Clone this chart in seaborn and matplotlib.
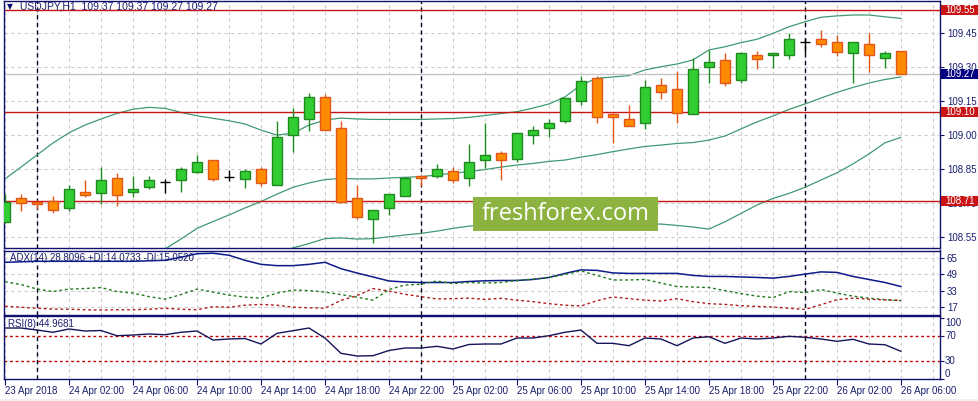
import matplotlib
matplotlib.use("Agg")
import matplotlib.pyplot as plt
from matplotlib.patches import Rectangle
from matplotlib.transforms import blended_transform_factory
import numpy as np
import pandas as pd
import seaborn as sns

# ========== Данные (USDJPY, H1, 23 Apr 22:00 - 26 Apr 06:00) ==========
opens = [108.617, 108.720, 108.706, 108.707, 108.676, 108.747, 108.745, 108.809, 108.747, 108.769,
         108.791, 108.800, 108.838, 108.888, 108.816, 108.807, 108.848, 108.778, 108.998, 109.070,
         109.167, 109.029, 108.720, 108.628, 108.676, 108.729, 108.817, 108.817, 108.839, 108.809,
         108.888, 108.919, 108.892, 108.998, 109.029, 109.060, 109.148, 109.249, 109.092, 109.068,
         109.051, 109.218, 109.201, 109.091, 109.298, 109.328, 109.240, 109.350, 109.350, 109.350,
         109.408, 109.421, 109.408, 109.359, 109.399, 109.337, 109.370]
highs = [108.739, 108.738, 108.713, 108.729, 108.779, 108.801, 108.857, 108.832, 108.817, 108.819,
         108.807, 108.857, 108.911, 108.888, 108.845, 108.848, 108.857, 109.061, 109.120, 109.185,
         109.180, 109.061, 108.779, 108.668, 108.738, 108.816, 108.820, 108.872, 108.857, 108.960,
         109.052, 108.930, 109.007, 109.038, 109.068, 109.161, 109.259, 109.259, 109.102, 109.132,
         109.242, 109.250, 109.281, 109.337, 109.374, 109.359, 109.366, 109.368, 109.359, 109.447,
         109.428, 109.461, 109.440, 109.408, 109.447, 109.368, 109.370]
lows = [108.610, 108.666, 108.675, 108.657, 108.666, 108.728, 108.697, 108.687, 108.728, 108.760,
        108.745, 108.747, 108.831, 108.798, 108.797, 108.766, 108.776, 108.778, 108.926, 109.018,
        109.021, 108.698, 108.628, 108.525, 108.647, 108.729, 108.775, 108.809, 108.787, 108.776,
        108.855, 108.800, 108.879, 108.958, 108.989, 109.051, 109.130, 109.051, 108.965, 109.038,
        109.027, 109.158, 109.051, 109.091, 109.227, 109.217, 109.227, 109.289, 109.296, 109.335,
        109.359, 109.388, 109.349, 109.227, 109.278, 109.296, 109.270]
closes = [108.706, 108.698, 108.697, 108.668, 108.760, 108.737, 108.800, 108.737, 108.760, 108.800,
          108.791, 108.848, 108.879, 108.807, 108.816, 108.839, 108.787, 108.989, 109.077, 109.167,
          109.021, 108.706, 108.637, 108.668, 108.738, 108.809, 108.809, 108.848, 108.800, 108.879,
          108.910, 108.888, 109.007, 109.020, 109.051, 109.161, 109.239, 109.077, 109.077, 109.038,
          109.210, 109.187, 109.098, 109.290, 109.320, 109.227, 109.359, 109.335, 109.359, 109.421,
          109.408, 109.399, 109.366, 109.408, 109.350, 109.359, 109.270]

nan = np.nan
bb_upper = [108.806, 108.858, 108.911, 108.964, 109.009, 109.043, 109.070, 109.094, 109.113, 109.121,
            109.117, 109.099, 109.084, 109.073, 109.062, 109.048, 109.021, 108.999, 109.007, 109.043,
            109.065, 109.074, 109.070, 109.068, 109.068, 109.068, 109.068, 109.070, 109.072, 109.077,
            109.085, 109.094, 109.102, 109.118, 109.136, 109.167, 109.220, 109.249, 109.255, 109.261,
            109.286, 109.300, 109.312, 109.330, 109.374, 109.388, 109.406, 109.421, 109.447, 109.476,
            109.498, 109.518, 109.524, 109.528, 109.528, 109.520, 109.513]
bb_middle = [nan, nan, nan, nan, nan, nan, nan, nan, nan, 108.450,
             108.497, 108.541, 108.588, 108.618, 108.647, 108.678, 108.706, 108.739, 108.769, 108.788,
             108.803, 108.808, 108.806, 108.806, 108.810, 108.813, 108.816, 108.823, 108.831, 108.838,
             108.847, 108.858, 108.867, 108.874, 108.883, 108.889, 108.902, 108.913, 108.926, 108.938,
             108.949, 108.955, 108.962, 108.966, 108.977, 108.995, 109.026, 109.057, 109.083, 109.112,
             109.136, 109.162, 109.187, 109.209, 109.228, 109.244, 109.255]
bb_lower = [nan, nan, nan, nan, nan, nan, nan, nan, nan, nan,
            nan, nan, nan, nan, nan, nan, 108.440, 108.484, 108.502, 108.521,
            108.543, 108.546, 108.541, 108.543, 108.551, 108.559, 108.566, 108.576, 108.588, 108.598,
            108.603, 108.604, 108.605, 108.606, 108.606, 108.606, 108.607, 108.607, 108.607, 108.607,
            108.607, 108.607, 108.601, 108.594, 108.585, 108.617, 108.654, 108.691, 108.720, 108.742,
            108.769, 108.801, 108.833, 108.872, 108.916, 108.965, 108.989]

adx = [61, 61.5, 62, 62, 62, 62, 62, 62, 62, 62.5,
       63, 66, 69.5, 70, 68, 63, 59, 57.7, 57.7, 59,
       61, 54.7, 50.4, 46.5, 42.5, 41.5, 41, 41, 41, 42,
       42.7, 43, 43, 44, 46, 50, 53.5, 53, 50.5, 50,
       50, 50, 50, 48, 47, 47, 46.5, 46, 45.3, 47,
       49.3, 51.5, 51, 47, 44, 41, 37]
plus_di = [41.7, 39, 34.5, 32, 34.5, 35, 36, 32, 30.5, 27,
           24.5, 29, 34.5, 31.5, 28.5, 26.5, 25.5, 30.5, 33.5, 33,
           31.5, 29, 26.5, 23.5, 34, 38.5, 39.3, 42.5, 40, 41,
           40.5, 41, 43, 44.3, 46, 49, 52.5, 48, 43.5, 43.5,
           44, 40.5, 37, 36.5, 36, 33, 30, 27.5, 26, 32,
           31, 34, 30.5, 27.5, 25.5, 24, 23]
minus_di = [17.5, 16.5, 15.5, 14.7, 14.5, 14, 13.7, 14, 14, 14.5,
            15.5, 14.5, 14, 17, 16.5, 18.5, 19.3, 18.5, 16.5, 16,
            15.5, 23.3, 28, 35, 32.5, 29.3, 27, 24.7, 25, 25.5,
            24.3, 25.3, 23.5, 22, 20, 18.5, 17.7, 23, 26.7, 25,
            23.5, 22.7, 25, 22, 20, 19.3, 18, 17.3, 16.7, 15.5,
            14.3, 19, 24, 25.5, 24.5, 23.7, 23.3]
rsi = [83.6, 83.6, 80.3, 76.6, 82, 78.7, 79.5, 71, 72.1, 73.8,
       72.6, 76.6, 78.7, 63.9, 65.6, 66.4, 57.4, 74.9, 79.2, 83.6,
       67.2, 42.1, 37.7, 38.2, 46.7, 50.8, 50.8, 53.6, 49.2, 56.6,
       57.4, 57.4, 67.2, 67.2, 71, 76.6, 80.3, 58.5, 58.5, 54.6,
       67.2, 65.6, 54.6, 67.2, 69.3, 58.5, 67.2, 65.6, 67.2, 70,
       68.4, 65.6, 61.8, 65.1, 57.4, 56.2, 45.4]

time_labels = ["23 Apr 2018", "24 Apr 02:00", "24 Apr 06:00", "24 Apr 10:00", "24 Apr 14:00",
               "24 Apr 18:00", "24 Apr 22:00", "25 Apr 02:00", "25 Apr 06:00", "25 Apr 10:00",
               "25 Apr 14:00", "25 Apr 18:00", "25 Apr 22:00", "26 Apr 02:00", "26 Apr 06:00"]
day_breaks = [2, 26, 50]            # бары 00:00
price_ticks = [108.55, 108.70, 108.85, 109.00, 109.15, 109.30, 109.45]
levels = [109.55, 109.10, 108.71]
last_price = 109.27

# ========== Оформление ==========
sns.set_style("white")
plt.rcParams['font.family'] = ['Liberation Sans', 'DejaVu Sans']

NAVY = '#10106e'
TXT = '#1a1f6e'
GRID = '#cccccc'
BAND = '#3f9a72'
RED = '#c81414'
BULL, BULL_EDGE = '#32cd32', '#1f8a1f'
BEAR, BEAR_EDGE = '#ff8c00', '#e2561a'

W, H = 979, 401
fig = plt.figure(figsize=(W / 100, H / 100), dpi=100)


def panel(top, bottom):
    return fig.add_axes([4 / W, 1 - bottom / H, 936 / W, (bottom - top) / H])


ax = panel(1, 248)
ax_adx = panel(250.5, 314.5)
ax_rsi = panel(316, 379)

bars = pd.DataFrame({"bar": np.arange(len(opens)), "open": opens, "high": highs,
                     "low": lows, "close": closes, "upper": bb_upper, "middle": bb_middle,
                     "lower": bb_lower, "adx": adx, "plus_di": plus_di,
                     "minus_di": minus_di, "rsi": rsi})

for a in (ax, ax_adx, ax_rsi):
    a.set_xlim(-0.06, 58.44)
    for sp in a.spines.values():
        sp.set_color(NAVY)
        sp.set_linewidth(1)
    for g in range(0, 59, 2):
        a.axvline(g, color=GRID, lw=0.8, ls=(0, (3, 3)), zorder=0)
    for d in day_breaks:
        a.axvline(d, color='#000022', lw=1, ls=(0, (3, 2.5)), zorder=1)
    a.yaxis.tick_right()
    a.tick_params(axis='y', right=True, colors=NAVY, labelcolor=TXT, labelsize=7,
                  length=3, width=0.8, pad=2)

# ---- основной график ----
ax.set_ylim(108.5016, 109.5896)
for t in price_ticks:
    ax.axhline(t, color=GRID, lw=0.8, ls=(0, (3, 3)), zorder=0)
ax.set_yticks(price_ticks)
ax.set_yticklabels([f"{t:.2f}" for t in price_ticks])

for col in ("upper", "middle", "lower"):
    sns.lineplot(data=bars, x="bar", y=col, ax=ax, color=BAND, linewidth=0.9, zorder=2)

for lv in levels:
    ax.axhline(lv, color=RED, lw=1, zorder=2)
ax.axhline(last_price, color='#c4c4c4', lw=1, zorder=2)

up = bars[bars.close > bars.open]
dn = bars[bars.close < bars.open]
dj = bars[bars.close == bars.open]
ax.vlines(up.bar, up.low, up.high, color=BULL_EDGE, lw=1, zorder=3)
ax.vlines(dn.bar, dn.low, dn.high, color=BEAR_EDGE, lw=1, zorder=3)
ax.bar(up.bar, up.close - up.open, bottom=up.open, width=0.64, color=BULL,
       edgecolor=BULL_EDGE, linewidth=1, zorder=4)
ax.bar(dn.bar, dn.open - dn.close, bottom=dn.close, width=0.64, color=BEAR,
       edgecolor=BEAR_EDGE, linewidth=1, zorder=4)
ax.vlines(dj.bar, dj.low, dj.high, color='black', lw=1, zorder=4)
ax.hlines(dj.open, dj.bar - 0.34, dj.bar + 0.34, color='black', lw=1, zorder=4)
ax.set_xticks([])
ax.set_xlabel("")
ax.set_ylabel("")

# метки уровней справа
ppx = (109.5896 - 108.5016) / 247
tr = blended_transform_factory(fig.transFigure, ax.transData)
for lv, c in [(109.55, RED), (109.10, RED), (108.71, RED), (last_price, '#000080')]:
    ax.add_patch(Rectangle((941 / W, lv - 5 * ppx), 38 / W, 10 * ppx, transform=tr,
                           facecolor=c, edgecolor='none', clip_on=False, zorder=6))
    ax.text(945 / W, lv, f"{lv:.2f}", transform=tr, color='white', fontsize=7,
            va='center', ha='left', zorder=7, clip_on=False)

fig.text(7 / W, 1 - 6.5 / H, "▼", family=['DejaVu Sans'], fontsize=5.5, color=NAVY, va='center')
fig.text(20 / W, 1 - 6.5 / H, "USDJPY,H1  109.37 109.37 109.27 109.27", fontsize=7.5,
         color=TXT, va='center')

# ---- ADX ----
ax_adx.set_ylim(9.3, 72.7)
adx_ticks = [17, 33, 49, 65]
for t in adx_ticks:
    ax_adx.axhline(t, color=GRID, lw=0.8, ls=(0, (3, 3)), zorder=0)
sns.lineplot(data=bars, x="bar", y="adx", ax=ax_adx, color='#0c1a8a', linewidth=1.1, zorder=3)
sns.lineplot(data=bars, x="bar", y="plus_di", ax=ax_adx, color='#1f7a1f', linewidth=1,
             linestyle=(0, (2, 2)), zorder=3)
sns.lineplot(data=bars, x="bar", y="minus_di", ax=ax_adx, color='#b01c1c', linewidth=1,
             linestyle=(0, (2, 2)), zorder=3)
ax_adx.set_yticks(adx_ticks)
ax_adx.set_xticks([])
ax_adx.set_xlabel("")
ax_adx.set_ylabel("")
ax_adx.text(6 / 936, 65, "ADX(14) 28.8096 +DI:14.0733 -DI:15.0520",
            transform=blended_transform_factory(ax_adx.transAxes, ax_adx.transData),
            fontsize=7, color=TXT, va='center', zorder=5)

# ---- RSI ----
ax_rsi.set_ylim(0, 103.3)
for lv in (70, 30):
    ax_rsi.axhline(lv, color='#c00000', lw=1, ls=(0, (2, 2)), zorder=1)
sns.lineplot(data=bars, x="bar", y="rsi", ax=ax_rsi, color='#14145a', linewidth=1, zorder=3)
ax_rsi.set_yticks([0, 30, 70, 100])
ax_rsi.set_yticklabels([])
rt = blended_transform_factory(ax_rsi.transAxes, ax_rsi.transData)
for v, va in [(100, 'top'), (70, 'center'), (30, 'center'), (0, 'bottom')]:
    ax_rsi.text(1 + 5 / 936, v, str(v), transform=rt, fontsize=7, color=TXT, va=va,
                ha='left', clip_on=False)
ax_rsi.text(4 / 936, 90, "RSI(8) 44.9681", transform=rt, fontsize=7, color=TXT, va='center')
ax_rsi.set_xlabel("")
ax_rsi.set_ylabel("")
ax_rsi.set_xticks(range(0, 57, 4))
ax_rsi.set_xticklabels(time_labels)
ax_rsi.tick_params(axis='x', bottom=True, colors=NAVY, labelcolor=TXT, labelsize=7,
                   length=4, width=0.8, pad=1)
for lab in ax_rsi.get_xticklabels():
    lab.set_ha('left')

# ---- водяной знак ----
fig.add_artist(Rectangle((473 / W, 1 - 231 / H), 185 / W, 34 / H, transform=fig.transFigure,
                         facecolor='#8cb33f', edgecolor='none', zorder=10))
fig.text(565.5 / W, 1 - 214 / H, "freshforex.com", ha='center', va='center', color='white',
         fontsize=17, family=['Open Sans', 'DejaVu Sans'], zorder=11)
fig.add_artist(Rectangle((0, 0), 1, 2.5 / H, transform=fig.transFigure,
                         facecolor='#efefef', edgecolor='none', zorder=0))

fig.savefig("out.png", dpi=100)
